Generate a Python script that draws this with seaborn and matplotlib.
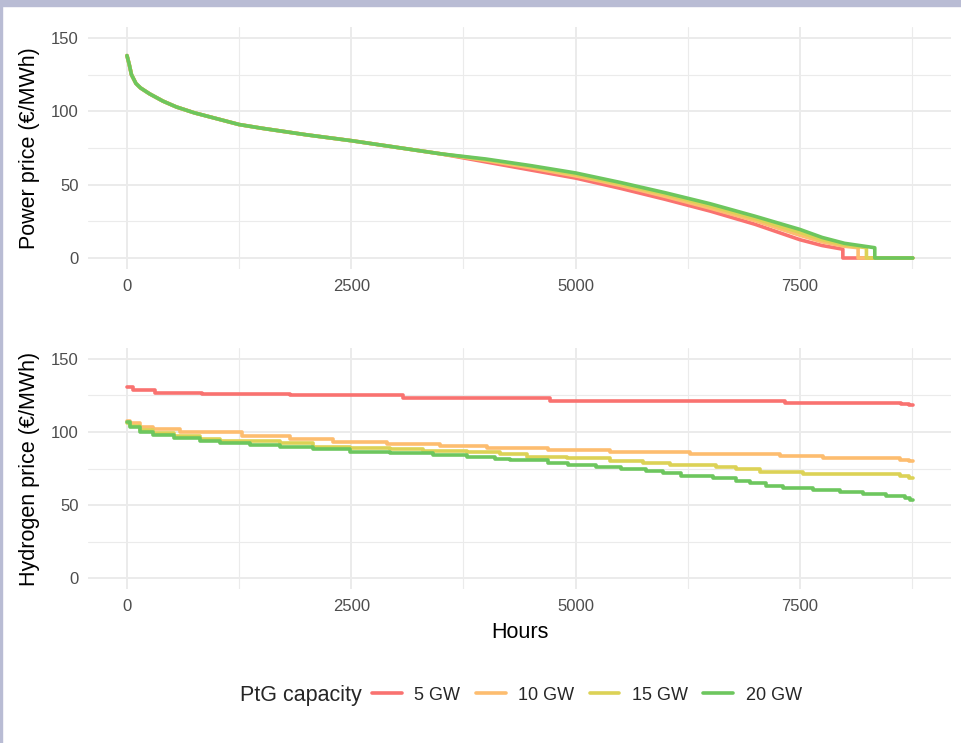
import numpy as np
import pandas as pd
import seaborn as sns
import matplotlib.pyplot as plt
from matplotlib.patches import Rectangle

sns.set_theme(style="white")
plt.rcParams['font.family'] = ['Liberation Sans', 'DejaVu Sans']

#%% data
capacities = ['5 GW', '10 GW', '15 GW', '20 GW']
colors = ['#F97270', '#FDBD6F', '#DCD256', '#6DC65E']

# power price duration curves
pw_hours_common = [0, 25, 50, 100, 150, 250, 400, 550, 750, 1000, 1250, 1500, 2000, 2500, 3000, 3500]
pw_common = [138, 132, 125, 119, 116, 112, 107, 103, 99, 95, 91, 88.5, 84, 80, 75.5, 71]

pw_hours_5 = [4000, 4500, 5000, 5500, 6000, 6500, 7000, 7500, 7750, 7980, 7980, 8760]
pw_5 = [65.5, 60, 54.5, 47.5, 40, 32, 23, 12.5, 8.5, 6, 0, 0]
pw_hours_10 = [4000, 4500, 5000, 5500, 6000, 6500, 7000, 7500, 7750, 8000, 8150, 8150, 8760]
pw_10 = [66.5, 61.5, 56, 49.5, 42, 34, 25.5, 15.5, 11, 8, 7, 0, 0]
pw_hours_15 = [4000, 4500, 5000, 5500, 6000, 6500, 7000, 7500, 7750, 8000, 8243, 8243, 8760]
pw_15 = [67, 62.5, 57, 50.5, 43.5, 35.5, 27, 17.5, 12.5, 9, 7, 0, 0]
pw_hours_20 = [4000, 4500, 5000, 5500, 6000, 6500, 7000, 7500, 7750, 8000, 8336, 8336, 8760]
pw_20 = [67.5, 63, 58, 51.5, 44.5, 37, 28.5, 19.5, 14, 10, 7, 0, 0]

# hydrogen price duration curves (stepwise)
h2_hours_5 = [0, 70, 312, 832, 1816, 3079, 4714, 7333, 8633, 8720, 8760]
h2_5 = [130.5, 129, 127, 126, 125, 123.5, 121.5, 120, 119, 118.5, 118.5]
h2_hours_10 = [0, 33, 145, 290, 590, 1280, 1820, 2300, 2900, 3490, 4010, 4694, 5381, 6273, 7276, 7760, 8615, 8720, 8760]
h2_10 = [107.5, 106, 103.6, 101.8, 99.8, 97.3, 95, 93.4, 91.8, 90.4, 88.8, 87.7, 86.3, 85.2, 83.6, 82, 80.8, 80, 80]
h2_hours_15 = [0, 33, 145, 290, 520, 810, 1036, 1705, 2077, 2486, 2932, 3300, 3787, 4157, 4454, 4900, 5381, 5753, 6050,
               6570, 6793, 7053, 7536, 8615, 8720, 8760]
h2_15 = [106, 104, 101.5, 99, 97, 95, 93.8, 92.2, 90, 89, 88.1, 87, 86, 84.9, 83.1, 82, 80.4, 79, 77.4,
         75.8, 74.4, 72.8, 71.2, 69.9, 68.3, 68.3]
h2_hours_20 = [0, 33, 145, 290, 520, 810, 1036, 1370, 1705, 2077, 2486, 2932, 3415, 3787, 4100, 4268, 4694, 4917,
               5232, 5511, 5790, 5976, 6180, 6533, 6793, 6942, 7128, 7314, 7648, 7945, 8205, 8465, 8670, 8726, 8760]
h2_20 = [107, 103.2, 100.2, 97.9, 95.7, 93.8, 92.2, 91.1, 89.5, 88.1, 86.5, 85.4, 84, 82.6, 81.5, 80.8, 79, 77.4,
         76.3, 74.7, 73.3, 71.7, 70.1, 68.3, 66.7, 64.9, 63.2, 61.9, 60.3, 59.1, 57.5, 56.2, 55, 53.4, 53.4]

#%% long tables
def long_df(parts, col):
    frames = []
    for cap, (h, v) in zip(capacities, parts):
        frames.append(pd.DataFrame({'Hours': h, col: v, 'PtG capacity': cap}))
    return pd.concat(frames, ignore_index=True)

power = long_df([(pw_hours_common + pw_hours_5, pw_common + pw_5),
                 (pw_hours_common + pw_hours_10, pw_common + pw_10),
                 (pw_hours_common + pw_hours_15, pw_common + pw_15),
                 (pw_hours_common + pw_hours_20, pw_common + pw_20)], 'Power')
hydrogen = long_df([(h2_hours_5, h2_5), (h2_hours_10, h2_10),
                    (h2_hours_15, h2_15), (h2_hours_20, h2_20)], 'Hydrogen')

#%% figure
W, H = 961, 743
fig = plt.figure(figsize=(W / 100, H / 100), dpi=100)
fig.patch.set_facecolor('white')
# screenshot frame
fig.patches.append(Rectangle((0, 1 - 6 / H), 1, 6 / H, transform=fig.transFigure, color='#B9BCD4', zorder=0))
fig.patches.append(Rectangle((0, 0), 2 / W, 1, transform=fig.transFigure, color='#B9BCD4', zorder=0))

ax_left = 88.4 / W
ax_w = 863 / W
ax1 = fig.add_axes([ax_left, 1 - 269 / H, ax_w, 242 / H])
ax2 = fig.add_axes([ax_left, 1 - 589 / H, ax_w, 241 / H])

palette = dict(zip(capacities, colors))
lw = 2.6
sns.lineplot(data=power, x='Hours', y='Power', hue='PtG capacity', hue_order=capacities, palette=palette,
             estimator=None, sort=False, linewidth=lw, ax=ax1, legend=False)
sns.lineplot(data=hydrogen, x='Hours', y='Hydrogen', hue='PtG capacity', hue_order=capacities, palette=palette,
             estimator=None, sort=False, linewidth=lw, drawstyle='steps-post', ax=ax2, legend=False)

for ax, lab in [(ax1, 'Power price (€/MWh)'), (ax2, 'Hydrogen price (€/MWh)')]:
    ax.set_xlim(-430, 9190)
    ax.set_ylim(-7.5, 157.5)
    ax.set_xticks([0, 2500, 5000, 7500])
    ax.set_xticks([1250, 3750, 6250, 8750], minor=True)
    ax.set_yticks([0, 50, 100, 150])
    ax.set_yticks([25, 75, 125], minor=True)
    ax.grid(True, which='major', color='#EBEBEB', linewidth=1.4)
    ax.grid(True, which='minor', color='#EBEBEB', linewidth=0.8)
    ax.set_axisbelow(True)
    for s in ax.spines.values():
        s.set_visible(False)
    ax.tick_params(which='both', length=0, labelsize=12, labelcolor='#4D4D4D', pad=7)
    ax.set_ylabel(lab, fontsize=15.5, color='black')
    ax.yaxis.set_label_coords(-(88.4 - 40) / 863, 0.5)
    ax.set_xlabel('')
    ax.set_facecolor('white')

ax2.set_xlabel('Hours', fontsize=15.5, color='black', labelpad=6)

# legend at the bottom, title on the left
fig.text(240 / W, 1 - 695 / H, 'PtG capacity', fontsize=15.5, ha='left', va='center')
handles = [plt.Line2D([], [], color=c, linewidth=lw) for c in colors]
fig.legend(handles, capacities, loc='center left', bbox_to_anchor=(372 / W, 1 - 695 / H), ncol=4,
           frameon=False, fontsize=13, handlelength=1.65, handletextpad=0.7, columnspacing=0.85,
           borderpad=0, borderaxespad=0)

plt.savefig('out.png', dpi=100)
